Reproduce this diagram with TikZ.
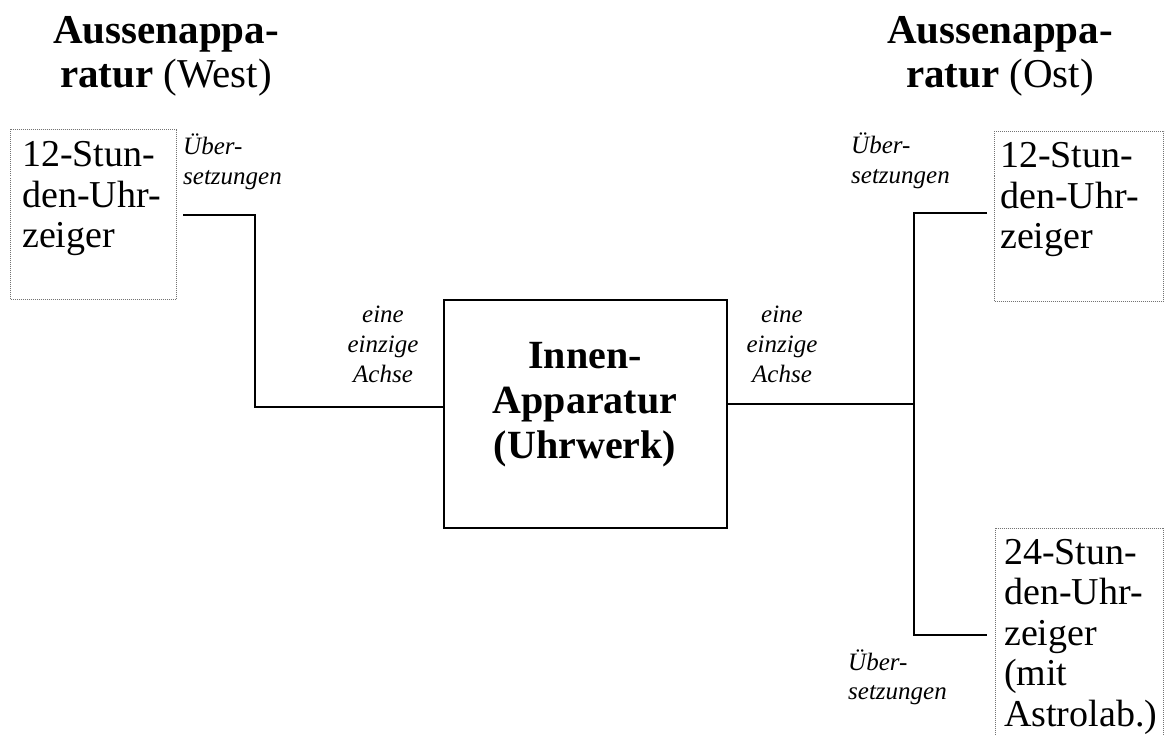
\documentclass[tikz,border=0pt]{standalone}
\usepackage{fontspec}
\setmainfont{Liberation Serif}
\newcommand\ctrlines[1]{\vtop{\halign{\hfil##\hfil\cr#1\crcr}}}
\newcommand\leftlines[1]{\vtop{\halign{##\hfil\cr#1\crcr}}}
\tikzset{
  conn/.style={line width=2.2pt, line join=miter},
  hand/.style={draw=black!55, densely dotted, line width=1pt, inner sep=0pt, anchor=north west},
  boxtext/.style={inner sep=0pt, anchor=base west, font=\fontsize{38}{40.5}\selectfont},
  title/.style={inner sep=0pt, anchor=base, font=\fontsize{41}{44}\selectfont},
  ctext/.style={inner sep=0pt, anchor=base, font=\bfseries\fontsize{40}{45}\selectfont},
  lbl/.style={inner sep=0pt, font=\itshape\fontsize{25}{29.5}\selectfont},
}
\begin{document}
\begin{tikzpicture}[x=1pt,y=-1pt]
\useasboundingbox (0,0) rectangle (1167,735);
% titles
\node[title] (tw) at (166,44) {\ctrlines{\textbf{Aussenappa-}\cr\textbf{ratur} (West)}};
\node[title] (to) at (1000,44) {\ctrlines{\textbf{Aussenappa-}\cr\textbf{ratur} (Ost)}};
% dotted boxes
\node[hand, minimum width=166pt, minimum height=170pt] (w) at (10,129) {};
\node[hand, minimum width=169pt, minimum height=170pt] (e1) at (994,131) {};
\node[inner sep=0pt, anchor=north west, minimum width=168pt, minimum height=207pt] (e2) at (995,528) {};
\draw[draw=black!55, densely dotted, line width=1pt] (e2.south west) -- (e2.north west) -- (e2.north east) -- (e2.south east);
% box texts
\node[boxtext] (wt) at (22,167) {\leftlines{12-Stun-\cr den-Uhr-\cr zeiger}};
\node[boxtext] (e1t) at (1000,168) {\leftlines{12-Stun-\cr den-Uhr-\cr zeiger}};
\node[boxtext] (e2t) at (1004,564) {\leftlines{24-Stun-\cr den-Uhr-\cr zeiger\cr (mit\cr Astrolab.)}};
% centre box
\node[draw, line width=2pt, inner sep=0pt, anchor=north west, minimum width=283pt, minimum height=228pt] (c) at (443,299) {};
\node[ctext] (ct) at (585,368) {\ctrlines{Innen-\cr Apparatur\cr (Uhrwerk)}};
% labels
\node[lbl, anchor=base] (lw) at (383,323) {\ctrlines{eine\cr einzige\cr Achse}};
\node[lbl, anchor=base] (lo) at (782,323) {\ctrlines{eine\cr einzige\cr Achse}};
\node[lbl, anchor=base west] (uw) at (183,155) {\leftlines{Über-\cr setzungen}};
\node[lbl, anchor=base west] (uo) at (851,154) {\leftlines{Über-\cr setzungen}};
\node[lbl, anchor=base west] (uu) at (848,670) {\leftlines{Über-\cr setzungen}};
% connectors
\coordinate (w1) at (183,215);
\coordinate (wb) at (255,215);
\coordinate (wy) at (0,407);
\draw[conn] (w1) -- (wb) |- (c.west |- wy);
\coordinate (ej) at (914,404);
\coordinate (et) at (914,213);
\coordinate (eb) at (914,635);
\coordinate (e1in) at (987,213);
\coordinate (e2in) at (987,635);
\draw[conn] (c.east |- ej) -- (ej);
\draw[conn] (e1in) -- (et) -- (eb) -- (e2in);
\end{tikzpicture}
\end{document}
